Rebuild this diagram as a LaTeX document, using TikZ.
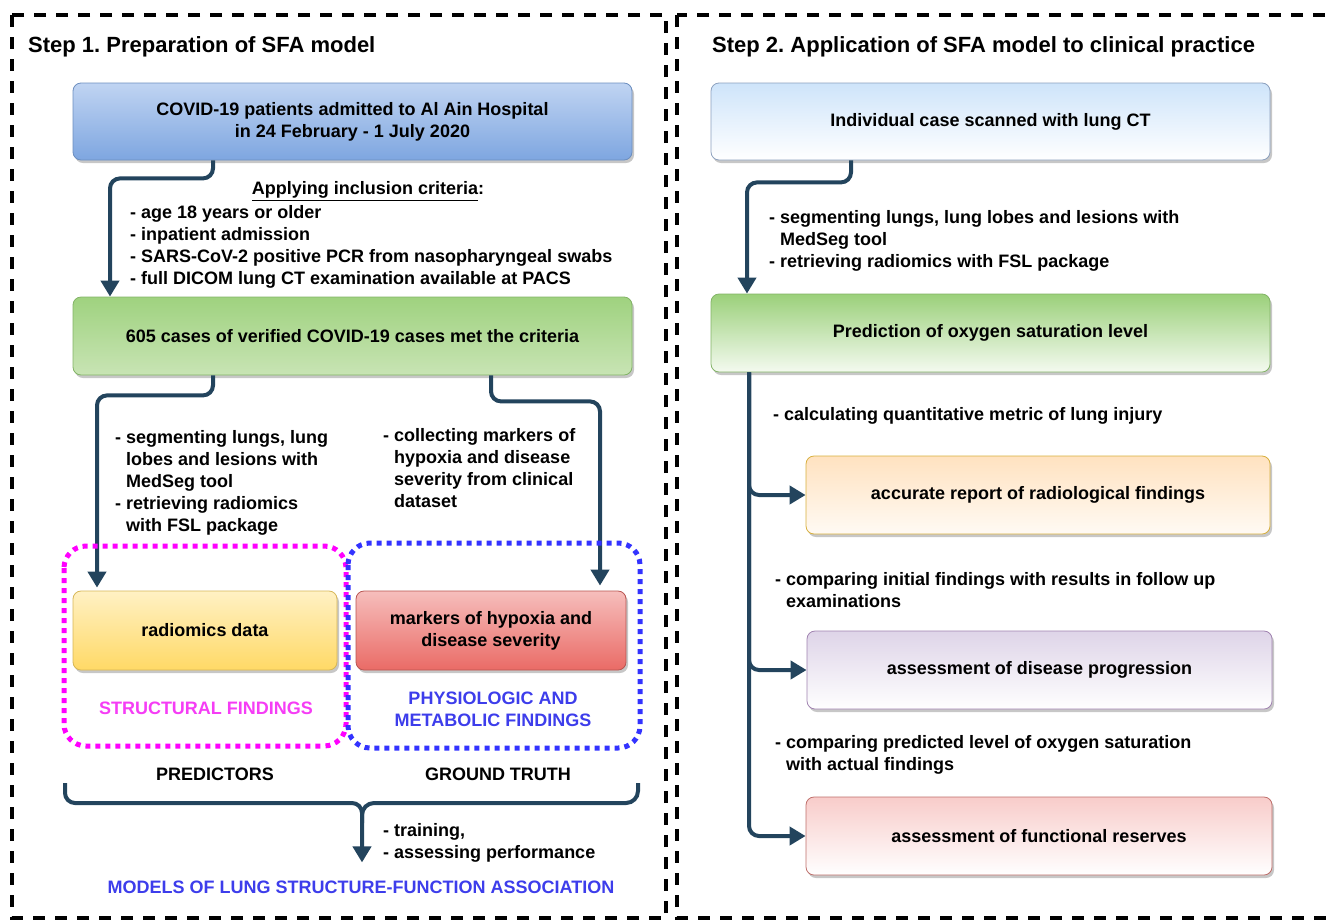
\documentclass[tikz,border=0pt]{standalone}
\usepackage{fontspec}
\setmainfont{Liberation Sans}
\frenchspacing
\definecolor{sfanavy}{HTML}{23445D}
\definecolor{sfamagenta}{HTML}{FF00FF}
\definecolor{sfamagtext}{HTML}{F53DF5}
\definecolor{sfablue}{HTML}{3333FF}
\definecolor{sfabluetext}{HTML}{3D3DEB}
\usetikzlibrary{arrows.meta,positioning,shadows}

\begin{document}
\begin{tikzpicture}[x=1pt,y=-1pt,
  sfabox/.style={draw,rounded corners=8pt,minimum width=559pt,minimum height=77pt,
    align=center,inner sep=4pt,line width=0.8pt,font=\fontsize{18}{22}\selectfont\bfseries,
    drop shadow={shadow xshift=2pt,shadow yshift=-3pt,fill=black,opacity=0.22}},
  sfatext/.style={align=left,inner sep=0pt,anchor=north west,font=\fontsize{18}{22}\selectfont\bfseries},
  sfalabel/.style={align=center,inner sep=0pt,font=\fontsize{18}{22}\selectfont\bfseries},
  sfatitle/.style={anchor=west,inner sep=0pt,font=\fontsize{22}{26}\selectfont\bfseries},
  sfaframe/.style={draw=black,line width=3.5pt,dash pattern=on 12pt off 10pt},
  sfagroup/.style={line width=5pt,rounded corners=22pt,dash pattern=on 5pt off 5pt},
  flow/.style={draw=sfanavy,line width=4pt,rounded corners=10pt,-{Triangle[length=16pt,width=18pt]}},
  flowline/.style={draw=sfanavy,line width=4pt,rounded corners=12pt}
]
  \useasboundingbox (0,0) rectangle (1335,919);
  % dashed frames of both steps
  \draw[sfaframe] (12,15) rectangle (666,918);
  \draw[sfaframe] (677,15) rectangle (1352,918);
  \node[sfatitle] (title1) at (28,47) {Step 1. Preparation of SFA model};
  \node[sfatitle] (title2) at (712,47) {Step 2. Application of SFA model to clinical practice};

  % Step 1: cohort
  \node[sfabox,top color={rgb,255:red,192;green,212;blue,242},bottom color={rgb,255:red,126;green,166;blue,224},
    draw={rgb,255:red,108;green,142;blue,191}] (ncovid) at (352.5,121.5)
    {COVID-19 patients admitted to Al Ain Hospital\\in 24 February - 1 July 2020};
  \node[sfalabel] (ncrit) at (368,191) {\underline{Applying inclusion criteria}:};
  \node[sfatext] (ncritlist) at (130,205) {- age 18 years or older\\- inpatient admission\\
    - SARS-CoV-2 positive PCR from nasopharyngeal swabs\\- full DICOM lung CT examination available at PACS};
  \node[sfabox,top color={rgb,255:red,159;green,210;blue,127},bottom color={rgb,255:red,200;green,228;blue,180},
    draw={rgb,255:red,130;green,179;blue,102},minimum height=78pt] (ngreen) at (352.5,336)
    {605 cases of verified COVID-19 cases met the criteria};
  \draw[flow] (ncovid.south -| 213,0) -- ++(0,18) -| (ngreen.north -| 110,0);

  % Step 1: predictors and ground truth
  \node[sfatext] (nseg) at (115,430) {- segmenting lungs, lung\\\phantom{- }lobes and lesions with\\
    \phantom{- }MedSeg tool\\- retrieving radiomics\\\phantom{- }with FSL package};
  \node[sfatext] (ncoll) at (383,428) {- collecting markers of\\\phantom{- }hypoxia and disease\\
    \phantom{- }severity from clinical\\\phantom{- }dataset};
  \node[sfabox,minimum width=264pt,minimum height=79pt,top color={rgb,255:red,255;green,241;blue,196},
    bottom color={rgb,255:red,255;green,217;blue,102},draw={rgb,255:red,214;green,182;blue,86}]
    (nradio) at (205,630.5) {radiomics data};
  \node[sfabox,minimum width=270pt,minimum height=79pt,top color={rgb,255:red,246;green,190;blue,188},
    bottom color={rgb,255:red,234;green,107;blue,102},draw={rgb,255:red,184;green,84;blue,80}]
    (nmarker) at (491,630.5) {markers of hypoxia and\\disease severity};
  \draw[flow] (ngreen.south -| 213,0) -- ++(0,20) -| ([yshift=3pt]nradio.north -| 97,0);
  \draw[flow] (ngreen.south -| 491,0) -- ++(0,26) -| ([yshift=5pt]nmarker.north -| 600,0);
  \draw[sfagroup,draw=sfamagenta] (64,546) rectangle (346,746);
  \draw[sfagroup,draw=sfablue] (348,543) rectangle (640,748);
  \node[sfalabel,text=sfamagtext] (nstruct) at (206,708) {STRUCTURAL FINDINGS};
  \node[sfalabel,text=sfabluetext] (nphys) at (493,709) {PHYSIOLOGIC AND\\METABOLIC FINDINGS};
  \node[sfalabel] (npredictors) at (215,774) {PREDICTORS};
  \node[sfalabel] (ntruth) at (498,774) {GROUND TRUTH};

  % Step 1: brace to the models
  \coordinate (braceL) at (65,783);
  \coordinate (braceR) at (638,783);
  \coordinate (braceM) at (362,803);
  \node[sfalabel,text=sfabluetext] (nmodels) at (361,887) {MODELS OF LUNG STRUCTURE-FUNCTION ASSOCIATION};
  \draw[flowline] (braceR) |- (braceM) -- ++(0,20);
  \draw[flow] (braceL) |- (braceM) -- ([yshift=18pt]nmodels.north -| braceM);
  \node[sfatext] (ntrain) at (383,823) {- training,\\- assessing performance};

  % Step 2: individual case
  \node[sfabox,top color={rgb,255:red,206;green,228;blue,250},bottom color=white,
    draw={rgb,255:red,140;green,160;blue,190}] (nindiv) at (990.5,121.5)
    {Individual case scanned with lung CT};
  \node[sfatext] (nseg2) at (769,210) {- segmenting lungs, lung lobes and lesions with\\
    \phantom{- }MedSeg tool\\- retrieving radiomics with FSL package};
  \node[sfabox,minimum height=78pt,top color={rgb,255:red,155;green,208;blue,122},
    bottom color={rgb,255:red,244;green,250;blue,240},draw={rgb,255:red,130;green,179;blue,102}]
    (npred) at (990.5,333) {Prediction of oxygen saturation level};
  \draw[flow] (nindiv.south -| 851,0) -- ++(0,22) -| (npred.north -| 747,0);

  % Step 2: outcomes
  \node[sfabox,minimum width=464pt,minimum height=78pt,top color={rgb,255:red,255;green,226;blue,192},
    bottom color={rgb,255:red,255;green,250;blue,244},draw={rgb,255:red,215;green,175;blue,60}]
    (naccur) at (1038,495) {accurate report of radiological findings};
  \node[sfabox,minimum width=465pt,minimum height=78pt,top color={rgb,255:red,222;green,212;blue,232},
    bottom color=white,draw={rgb,255:red,160;green,130;blue,176}]
    (nprog) at (1039.5,670) {assessment of disease progression};
  \node[sfabox,minimum width=466pt,minimum height=78pt,top color={rgb,255:red,248;green,204;blue,202},
    bottom color=white,draw={rgb,255:red,190;green,110;blue,106}]
    (nfunc) at (1039,836) {assessment of functional reserves};
  \node[sfatext] (ncalc) at (773,407) {- calculating quantitative metric of lung injury};
  \node[sfatext] (ncomp1) at (775,572) {- comparing initial findings with results in follow up\\\phantom{- }examinations};
  \node[sfatext] (ncomp2) at (775,735) {- comparing predicted level of oxygen saturation\\\phantom{- }with actual findings};
  \draw[flow] (npred.south -| 749,0) |- (naccur.west);
  \draw[flow] (npred.south -| 749,0) |- (nprog.west);
  \draw[flow] (npred.south -| 749,0) |- (nfunc.west);
\end{tikzpicture}
\end{document}
